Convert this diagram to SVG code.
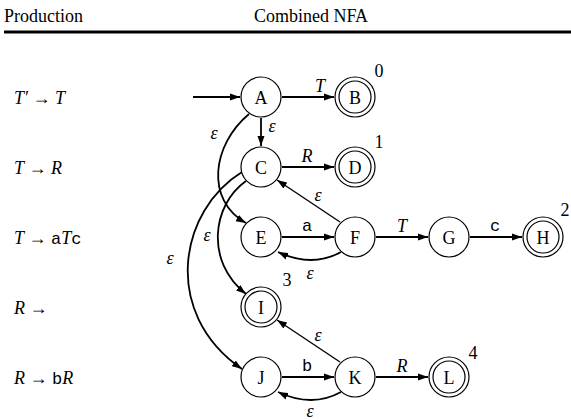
<svg xmlns="http://www.w3.org/2000/svg" width="571" height="420" viewBox="0 0 571 420" font-family="Liberation Serif, Times New Roman, serif">
<style>
text{font-family:"Liberation Serif","Times New Roman",serif;fill:#000}
.h{font-size:18px}
.n{font-size:18px;text-anchor:middle}
.l{font-size:18px;text-anchor:middle;font-style:italic}
.m{font-size:17px;text-anchor:middle}
.p{font-size:18px}
.i{font-style:italic}
.mono{font-size:17px}
.num{font-size:18px;text-anchor:middle}
circle{fill:#fff;stroke:#000;stroke-width:1.2}
.e{fill:none;stroke:#000;stroke-width:1.8}
.t{fill:none;stroke:#000;stroke-width:1.3}
</style>
<defs>
<marker id="ah" markerUnits="userSpaceOnUse" markerWidth="11" markerHeight="8" refX="10" refY="4" orient="auto">
<path d="M0,0.5 L10,4 L0,7.5 z" fill="#000"/>
</marker>
</defs>
<text class="h" x="4" y="22">Production</text>
<text class="h" x="311" y="22" text-anchor="middle">Combined NFA</text>
<line x1="4" y1="32" x2="571" y2="32" stroke="#000" stroke-width="3"/>
<g id="productions" font-family="Liberation Serif, serif" style="font-family:'Liberation Serif',serif">
<text class="p" x="14" y="104" style="font-family:'Liberation Serif',serif"><tspan class="i" style="font-family:'Liberation Serif',serif">T′</tspan> → <tspan class="i" style="font-family:'Liberation Serif',serif">T</tspan></text>
<text class="p" x="14" y="174" style="font-family:'Liberation Serif',serif"><tspan class="i" style="font-family:'Liberation Serif',serif">T</tspan> → <tspan class="i" style="font-family:'Liberation Serif',serif">R</tspan></text>
<text class="p" x="14" y="244" style="font-family:'Liberation Serif',serif"><tspan class="i" style="font-family:'Liberation Serif',serif">T</tspan> → <tspan class="mono" style="font-family:'Liberation Mono',monospace">a</tspan><tspan class="i" style="font-family:'Liberation Serif',serif">T</tspan><tspan class="mono" style="font-family:'Liberation Mono',monospace">c</tspan></text>
<text class="p" x="14" y="314" style="font-family:'Liberation Serif',serif"><tspan class="i" style="font-family:'Liberation Serif',serif">R</tspan> →</text>
<text class="p" x="14" y="384" style="font-family:'Liberation Serif',serif"><tspan class="i" style="font-family:'Liberation Serif',serif">R</tspan> → <tspan class="mono" style="font-family:'Liberation Mono',monospace">b</tspan><tspan class="i" style="font-family:'Liberation Serif',serif">R</tspan></text>
</g>
<g id="connectors">
<line class="e" x1="193" y1="97" x2="240" y2="97" marker-end="url(#ah)"/>
<line class="e" x1="282" y1="97" x2="334" y2="97" marker-end="url(#ah)"/>
<line class="e" x1="261" y1="118" x2="261" y2="146" marker-end="url(#ah)"/>
<line class="e" x1="282" y1="167" x2="334" y2="167" marker-end="url(#ah)"/>
<line class="t" x1="340" y1="222" x2="277" y2="180" marker-end="url(#ah)"/>
<line class="e" x1="282" y1="237" x2="334" y2="237" marker-end="url(#ah)"/>
<line class="e" x1="376" y1="237" x2="428" y2="237" marker-end="url(#ah)"/>
<line class="e" x1="470" y1="237" x2="522" y2="237" marker-end="url(#ah)"/>
<path class="e" d="M341 252 Q312 268 278 252" marker-end="url(#ah)"/>
<path class="e" d="M249 114 C212 145 205 200 246 223" marker-end="url(#ah)"/>
<path class="e" d="M246 181 C212 205 205 262 246 294" marker-end="url(#ah)"/>
<path class="e" d="M242 172 C180 210 160 312 242 369" marker-end="url(#ah)"/>
<line class="t" x1="340" y1="362" x2="277" y2="320" marker-end="url(#ah)"/>
<line class="e" x1="282" y1="377" x2="334" y2="377" marker-end="url(#ah)"/>
<line class="e" x1="376" y1="377" x2="428" y2="377" marker-end="url(#ah)"/>
<path class="e" d="M341 392 Q312 408 278 392" marker-end="url(#ah)"/>
<text class="l" x="320" y="92" style="font-family:'Liberation Serif',serif">T</text>
<text class="l" x="272" y="132" style="font-family:'Liberation Serif',serif">ε</text>
<text class="l" x="307" y="162" style="font-family:'Liberation Serif',serif">R</text>
<text class="l" x="318" y="201" style="font-family:'Liberation Serif',serif">ε</text>
<text class="m" x="307" y="231" style="font-family:'Liberation Mono',monospace">a</text>
<text class="l" x="402" y="232" style="font-family:'Liberation Serif',serif">T</text>
<text class="m" x="495" y="231" style="font-family:'Liberation Mono',monospace">c</text>
<text class="l" x="310" y="279" style="font-family:'Liberation Serif',serif">ε</text>
<text class="l" x="214" y="139" style="font-family:'Liberation Serif',serif">ε</text>
<text class="l" x="207" y="241" style="font-family:'Liberation Serif',serif">ε</text>
<text class="l" x="170" y="264" style="font-family:'Liberation Serif',serif">ε</text>
<text class="l" x="318" y="341" style="font-family:'Liberation Serif',serif">ε</text>
<text class="m" x="307" y="371" style="font-family:'Liberation Mono',monospace">b</text>
<text class="l" x="402" y="372" style="font-family:'Liberation Serif',serif">R</text>
<text class="l" x="310" y="417" style="font-family:'Liberation Serif',serif">ε</text>
</g>
<g id="A"><circle cx="261" cy="97" r="20"/><text class="n" x="261" y="104" style="font-family:'Liberation Serif',serif">A</text></g>
<g id="B"><circle cx="355" cy="97" r="20"/><circle cx="355" cy="97" r="16"/><text class="n" x="355" y="104" style="font-family:'Liberation Serif',serif">B</text><text class="num" x="379" y="77" style="font-family:'Liberation Serif',serif">0</text></g>
<g id="C"><circle cx="261" cy="167" r="20"/><text class="n" x="261" y="174" style="font-family:'Liberation Serif',serif">C</text></g>
<g id="D"><circle cx="355" cy="167" r="20"/><circle cx="355" cy="167" r="16"/><text class="n" x="355" y="174" style="font-family:'Liberation Serif',serif">D</text><text class="num" x="379" y="148" style="font-family:'Liberation Serif',serif">1</text></g>
<g id="E"><circle cx="261" cy="237" r="20"/><text class="n" x="261" y="244" style="font-family:'Liberation Serif',serif">E</text></g>
<g id="F"><circle cx="355" cy="237" r="20"/><text class="n" x="355" y="244" style="font-family:'Liberation Serif',serif">F</text></g>
<g id="G"><circle cx="449" cy="237" r="20"/><text class="n" x="449" y="244" style="font-family:'Liberation Serif',serif">G</text></g>
<g id="H"><circle cx="543" cy="237" r="20"/><circle cx="543" cy="237" r="16"/><text class="n" x="543" y="244" style="font-family:'Liberation Serif',serif">H</text><text class="num" x="565" y="216" style="font-family:'Liberation Serif',serif">2</text></g>
<g id="I"><circle cx="261" cy="307" r="20"/><circle cx="261" cy="307" r="16"/><text class="n" x="261" y="314" style="font-family:'Liberation Serif',serif">I</text><text class="num" x="287" y="286" style="font-family:'Liberation Serif',serif">3</text></g>
<g id="J"><circle cx="261" cy="377" r="20"/><text class="n" x="261" y="384" style="font-family:'Liberation Serif',serif">J</text></g>
<g id="K"><circle cx="355" cy="377" r="20"/><text class="n" x="355" y="384" style="font-family:'Liberation Serif',serif">K</text></g>
<g id="L"><circle cx="449" cy="377" r="20"/><circle cx="449" cy="377" r="16"/><text class="n" x="449" y="384" style="font-family:'Liberation Serif',serif">L</text><text class="num" x="473" y="359" style="font-family:'Liberation Serif',serif">4</text></g>
</svg>
